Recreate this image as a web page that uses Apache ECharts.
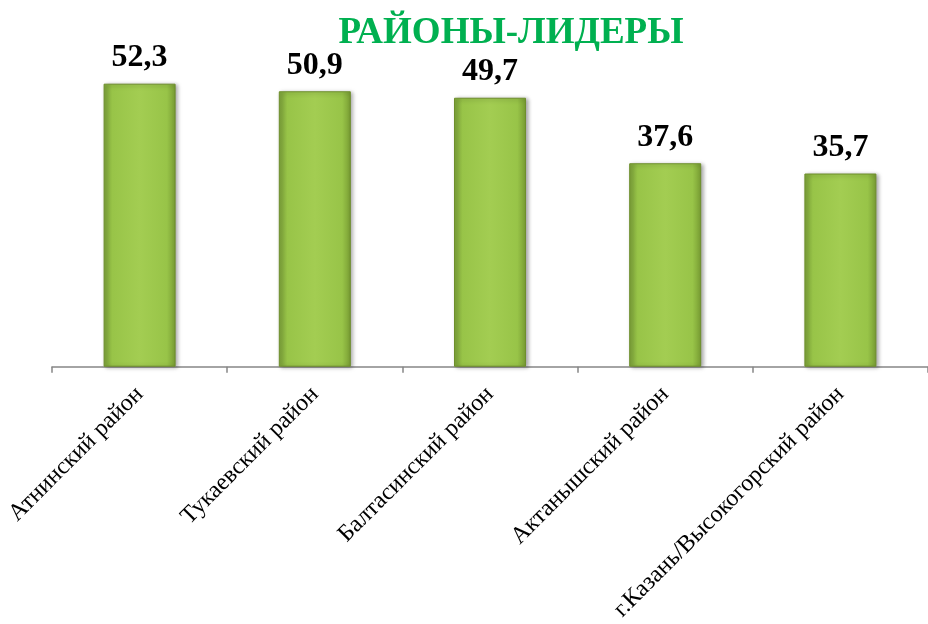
<!DOCTYPE html>
<html>
<head>
<meta charset="utf-8">
<script src="https://cdn.jsdelivr.net/npm/echarts@6/dist/echarts.min.js"></script>
<style>
  html, body { margin: 0; padding: 0; background: #fff; }
  #main { width: 928px; height: 624px; }
</style>
</head>
<body>
<div id="main"></div>
<script>
var categories = ['Атнинский район', 'Тукаевский район', 'Балтасинский район', 'Актанышский район', 'г.Казань/Высокогорский район'];
var values = [52.3, 50.9, 49.7, 37.6, 35.7];

var myChart = echarts.init(document.getElementById('main'));

// bevelled green bars: darker edges, lighter middle
var barColor = new echarts.graphic.LinearGradient(0, 0, 1, 0, [
    { offset: 0, color: '#7da33a' },
    { offset: 0.12, color: '#98c448' },
    { offset: 0.5, color: '#a3cd52' },
    { offset: 0.88, color: '#98c448' },
    { offset: 1, color: '#789c33' }
]);

option = {
    title: {
        text: 'РАЙОНЫ-ЛИДЕРЫ',
        left: 506,
        textAlign: 'center',
        top: 10,
        textStyle: {
            fontFamily: 'Liberation Serif',
            fontWeight: 'bold',
            fontSize: 37,
            color: '#00b050'
        }
    },
    grid: {
        left: 52,
        top: 42,
        width: 880,
        height: 328
    },
    xAxis: {
        type: 'category',
        data: categories,
        axisLine: { lineStyle: { color: '#868686', width: 1.5 } },
        axisTick: { show: true, length: 6, lineStyle: { color: '#868686', width: 1.5 } },
        axisLabel: {
            rotate: 45,
            interval: 0,
            margin: 24,
            fontFamily: 'Liberation Serif',
            fontSize: 24,
            color: '#000'
        }
    },
    yAxis: {
        type: 'value',
        min: 0,
        max: 60,
        show: false
    },
    series: [
        {
            type: 'bar',
            data: values,
            barWidth: 72,
            itemStyle: {
                color: barColor,
                borderColor: '#6e8f2c',
                borderWidth: 1,
                shadowColor: 'rgba(0,0,0,0.35)',
                shadowBlur: 4,
                shadowOffsetX: 2,
                shadowOffsetY: 1
            },
            label: {
                show: true,
                position: 'top',
                distance: 10,
                formatter: function (p) {
                    return String(p.value).replace('.', ',');
                },
                fontFamily: 'Liberation Serif',
                fontWeight: 'bold',
                fontSize: 32,
                color: '#000'
            }
        }
    ]
};

myChart.setOption(option);
</script>
</body>
</html>
